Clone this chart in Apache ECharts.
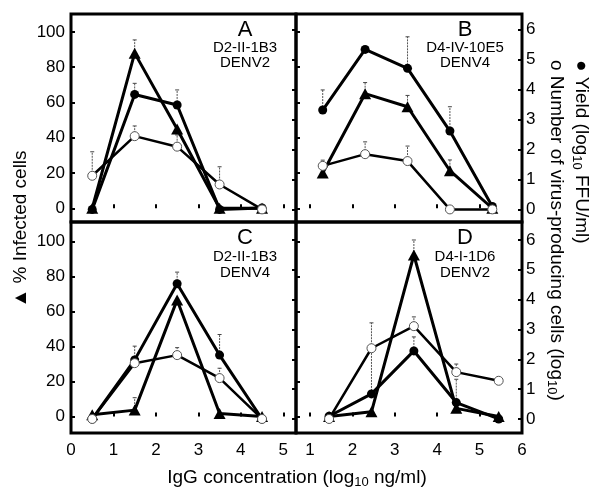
<!DOCTYPE html>
<html>
<head>
<meta charset="utf-8">
<script src="https://cdn.jsdelivr.net/npm/echarts@6/dist/echarts.min.js"></script>
<style>html,body{margin:0;padding:0;background:#fff;}#c{width:591px;height:487px;}</style>
</head>
<body>
<div id="c"></div>
<script>
// ---- data ----
const xLeftTicks = [1, 2, 3, 4, 5];
const xLeftLabels = [0, 1, 2, 3, 4, 5];
const xRightTicks = [1, 2, 3, 4, 5];
const xRightLabels = [1, 2, 3, 4, 5, 6];
const pctTicks = [0, 20, 40, 60, 80, 100];
const logTicks = [0, 1, 2, 3, 4, 5, 6];

const panelNames = ['A', 'B', 'C', 'D'];
const panelAntibody = ['D2-II-1B3', 'D4-IV-10E5', 'D2-II-1B3', 'D4-I-1D6'];
const panelVirus = ['DENV2', 'DENV4', 'DENV4', 'DENV2'];

const xA = [0.5, 1.5, 2.5, 3.5, 4.5];
const infectedA = [0, 88, 45, 0, 0];
const yieldA = [0, 3.83, 3.48, 0, 0.05];
const cellsA = [1.12, 2.44, 2.09, 0.83, 0];
const infectedErrA = [null, 95.5, null, null, null];
const yieldErrA = [null, 4.2, 3.98, null, null];
const cellsErrA = [1.92, 2.78, 2.48, 1.42, null];

const xB = [1.3, 2.3, 3.3, 4.3, 5.3];
const infectedB = [20, 65, 57.6, 21.3, 0];
const yieldB = [3.31, 5.33, 4.7, 2.61, 0.1];
const cellsB = [1.45, 1.84, 1.61, 0, 0];
const infectedErrB = [null, 71.3, 64, 27.4, null];
const yieldErrB = [3.98, null, 5.75, 3.42, null];
const cellsErrB = [1.64, 2.25, 2.11, null, null];

const xC = [0.5, 1.5, 2.5, 3.5, 4.5];
const infectedC = [1, 3.6, 66.7, 1.7, 0];
const yieldC = [0, 1.98, 4.53, 2.14, 0];
const cellsC = [0, 1.87, 2.14, 1.37, 0];
const infectedErrC = [null, 10.7, null, null, null];
const yieldErrC = [null, null, 4.92, 2.83, null];
const cellsErrC = [null, 2.44, 2.39, 1.7, null];

const xD = [1.45, 2.45, 3.45, 4.45, 5.45];
const infectedD = [0, 2.6, 92.4, 4.6, 0];
const yieldD = [0.09, 0.84, 2.28, 0.55, 0];
const cellsD = [0, 2.37, 3.11, 1.57, 1.28];
const infectedErrD = [null, null, 101, null, null];
const yieldErrD = [null, 2.35, 2.75, 1.33, null];
const cellsErrD = [null, 3.22, 3.42, 1.84, null];

// ---- chart construction ----
const panels = [
  {x: xA, inf: infectedA, yld: yieldA, cel: cellsA, infE: infectedErrA, yldE: yieldErrA, celE: cellsErrA},
  {x: xB, inf: infectedB, yld: yieldB, cel: cellsB, infE: infectedErrB, yldE: yieldErrB, celE: cellsErrB},
  {x: xC, inf: infectedC, yld: yieldC, cel: cellsC, infE: infectedErrC, yldE: yieldErrC, celE: cellsErrC},
  {x: xD, inf: infectedD, yld: yieldD, cel: cellsD, infE: infectedErrD, yldE: yieldErrD, celE: cellsErrD}
];

const FONT = '"Liberation Sans", Arial, Helvetica, sans-serif';
const grids = [
  {left: 71, top: 14, width: 225, height: 208},
  {left: 296, top: 14, width: 226, height: 208},
  {left: 71, top: 222, width: 225, height: 211},
  {left: 296, top: 222, width: 226, height: 211}
];
const leftRange = [[-7.8, 110.2], [-7.8, 110.2], [-9.5, 111.3], [-9.5, 111.3]];
const rightRange = [[-0.42, 6.51], [-0.42, 6.51], [-0.47, 6.6], [-0.47, 6.6]];

const grid = grids.map(g => Object.assign({show: true, borderColor: '#000', borderWidth: 3, backgroundColor: 'transparent', containLabel: false}, g));

const tickStyle = {show: true, inside: true, length: 4, lineStyle: {color: '#000', width: 2}};

const xAxis = [0, 1, 2, 3].map(i => {
  const isLeft = (i % 2 === 0), isBottom = i >= 2;
  return {
    type: 'value', gridIndex: i,
    min: isLeft ? 0 : 0.67, max: isLeft ? 5.3 : 6,
    axisLine: {show: false}, splitLine: {show: false},
    axisTick: Object.assign({customValues: isLeft ? xLeftTicks : xRightTicks}, tickStyle),
    axisLabel: {show: isBottom, customValues: isLeft ? xLeftLabels : xRightLabels, margin: 9,
      color: '#000', fontSize: 17, fontFamily: FONT}
  };
});

const yAxis = [];
[0, 1, 2, 3].forEach(i => {
  const isLeft = (i % 2 === 0);
  yAxis.push({
    type: 'value', gridIndex: i, position: 'left',
    min: leftRange[i][0], max: leftRange[i][1],
    axisLine: {show: false}, splitLine: {show: false},
    axisTick: Object.assign({customValues: pctTicks}, tickStyle),
    axisLabel: {show: isLeft, customValues: pctTicks, margin: 6, color: '#000', fontSize: 17, fontFamily: FONT}
  });
  yAxis.push({
    type: 'value', gridIndex: i, position: 'right',
    min: rightRange[i][0], max: rightRange[i][1],
    axisLine: {show: false}, splitLine: {show: false},
    axisTick: Object.assign({customValues: logTicks}, tickStyle),
    axisLabel: {show: !isLeft, customValues: logTicks, margin: 4, color: '#000', fontSize: 17, fontFamily: FONT}
  });
});

function pairs(xs, ys) { return xs.map((x, k) => [x, ys[k]]); }
function errData(xs, ys, tops) {
  const out = [];
  xs.forEach((x, k) => { if (tops[k] != null) out.push([x, ys[k], tops[k]]); });
  return out;
}
function errRender(params, api) {
  const x = api.value(0), y = api.value(1), top = api.value(2);
  const p0 = api.coord([x, y]);
  const p1 = api.coord([x, top]);
  return {
    type: 'group',
    children: [
      {type: 'line', shape: {x1: p0[0], y1: p0[1], x2: p1[0], y2: p1[1]},
        style: {stroke: '#555', lineWidth: 1, lineDash: [2, 1]}},
      {type: 'line', shape: {x1: p1[0] - 2, y1: p1[1], x2: p1[0] + 2, y2: p1[1]},
        style: {stroke: '#444', lineWidth: 1}}
    ]
  };
}

const series = [];
panels.forEach((p, i) => {
  const yl = 2 * i, yr = 2 * i + 1;
  [[p.inf, p.infE, yl], [p.yld, p.yldE, yr], [p.cel, p.celE, yr]].forEach(([v, e, ya]) => {
    series.push({
      type: 'custom', xAxisIndex: i, yAxisIndex: ya, z: 1, silent: true,
      renderItem: errRender, encode: {x: 0, y: [1, 2]},
      data: errData(p.x, v, e)
    });
  });
  series.push({
    type: 'line', xAxisIndex: i, yAxisIndex: yl, z: 3,
    data: pairs(p.x, p.inf), symbol: 'triangle', symbolSize: [12, 11],
    lineStyle: {color: '#000', width: 3}, itemStyle: {color: '#000'}
  });
  series.push({
    type: 'line', xAxisIndex: i, yAxisIndex: yr, z: 3,
    data: pairs(p.x, p.yld), symbol: 'circle', symbolSize: 9,
    lineStyle: {color: '#000', width: 3}, itemStyle: {color: '#000'}
  });
  series.push({
    type: 'line', xAxisIndex: i, yAxisIndex: yr, z: 4,
    data: pairs(p.x, p.cel), symbol: 'circle', symbolSize: 9,
    lineStyle: {color: '#000', width: 2.5},
    itemStyle: {color: '#fff', borderColor: '#555', borderWidth: 1}
  });
});

// panel labels and axis titles
const graphic = [];
const labelPos = [[245, 30, 48, 63], [465, 30, 48, 63], [245, 238, 257, 273], [465, 238, 257, 273]];
panels.forEach((p, i) => {
  const [cx, yL, y1, y2] = labelPos[i];
  graphic.push({type: 'text', x: cx, y: yL, style: {text: panelNames[i], fill: '#000', font: '22px ' + FONT, align: 'center', verticalAlign: 'middle', textAlign: 'center', textVerticalAlign: 'middle'}});
  graphic.push({type: 'text', x: cx, y: y1, style: {text: panelAntibody[i], fill: '#000', font: '15px ' + FONT, align: 'center', verticalAlign: 'middle', textAlign: 'center', textVerticalAlign: 'middle'}});
  graphic.push({type: 'text', x: cx, y: y2, style: {text: panelVirus[i], fill: '#000', font: '15px ' + FONT, align: 'center', verticalAlign: 'middle', textAlign: 'center', textVerticalAlign: 'middle'}});
});

const richMain = (fs) => ({
  a: {fontSize: fs, fontFamily: FONT, fill: '#000', color: '#000'},
  s: {fontSize: Math.round(fs * 0.68), fontFamily: FONT, fill: '#000', color: '#000', padding: [9, 0, 0, 0]}
});

graphic.push({
  type: 'text', x: 297, y: 478,
  style: {text: '{a|IgG concentration (log}{s|10}{a| ng/ml)}', rich: richMain(19),
    align: 'center', verticalAlign: 'middle', textAlign: 'center', textVerticalAlign: 'middle'}
});
graphic.push({
  type: 'text', x: 21, y: 229, rotation: Math.PI / 2,
  style: {text: '{a|\u25B2 % Infected cells}', rich: richMain(19),
    align: 'center', verticalAlign: 'middle', textAlign: 'center', textVerticalAlign: 'middle'}
});
graphic.push({
  type: 'text', x: 581, y: 60, rotation: -Math.PI / 2,
  style: {text: '{a|\u25CF Yield (log}{s|10}{a| FFU/ml)}', rich: richMain(19),
    align: 'left', verticalAlign: 'middle', textAlign: 'left', textVerticalAlign: 'middle'}
});
graphic.push({
  type: 'text', x: 556, y: 60, rotation: -Math.PI / 2,
  style: {text: '{a|o Number of virus-producing cells (log}{s|10}{a|)}', rich: richMain(19),
    align: 'left', verticalAlign: 'middle', textAlign: 'left', textVerticalAlign: 'middle'}
});

const chart = echarts.init(document.getElementById('c'), null, {renderer: 'canvas'});
chart.setOption({
  animation: false,
  backgroundColor: '#fff',
  grid, xAxis, yAxis, series, graphic
});
</script>
</body>
</html>
